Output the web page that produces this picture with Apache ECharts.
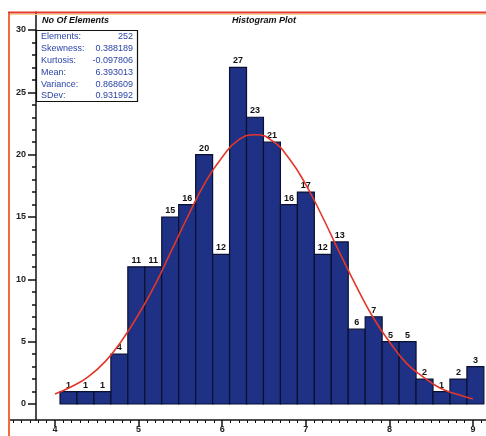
<!DOCTYPE html>
<html><head><meta charset="utf-8">
<script src="https://cdn.jsdelivr.net/npm/echarts@6/dist/echarts.min.js"></script>
<style>html,body{margin:0;padding:0;background:#fff}#c{width:486px;height:436px}</style>
</head><body><div id="c"></div>
<script>
// ---- data ----
const binStart = 4.06;
const binWidth = 0.2028;
const counts = [1,1,1,4,11,11,15,16,20,12,27,23,21,16,17,12,13,6,7,5,5,2,1,2,3];
const curveX = [4.0,4.2,4.4,4.6,4.8,5.0,5.2,5.4,5.6,5.8,6.0,6.2,6.4,6.6,6.8,7.0,7.2,7.4,7.6,7.8,8.0,8.2,8.4,8.6,8.8,9.0];
const curveY = [0.8,1.4,2.2,3.4,5.1,7.2,9.6,12.4,15.2,17.8,19.8,21.2,21.6,21.1,19.7,17.6,15.0,12.2,9.5,7.0,5.0,3.3,2.2,1.3,0.8,0.4];
const statNames = ['Elements:','Skewness:','Kurtosis:','Mean:','Variance:','SDev:'];
const statValues = ['252','0.388189','-0.097806','6.393013','0.868609','0.931992'];
const titleText = 'Histogram Plot';
const yTitle = 'No Of Elements';

const FONT = '"Liberation Sans Narrow", "Arial Narrow", "Liberation Sans", sans-serif';
const chart = echarts.init(document.getElementById('c'), null, {renderer:'canvas'});

const bars = counts.map((c, i) => [binStart + i * binWidth, binStart + (i + 1) * binWidth, c]);
const curve = curveX.map((x, i) => [x, curveY[i]]);

const statGraphics = [];
statNames.forEach((n, i) => {
  const y = 37 + i * 11.8;
  statGraphics.push({type:'text', z:101, style:{text:n, x:41, y:y, align:'left', verticalAlign:'middle', font:'9px ' + FONT, fill:'#2b45a8'}});
  statGraphics.push({type:'text', z:101, style:{text:statValues[i], x:133, y:y, align:'right', verticalAlign:'middle', font:'9px ' + FONT, fill:'#2b45a8'}});
});

const option = {
  backgroundColor:'#ffffff',
  animation:false,
  title:[
    {text:yTitle, left:42, top:16, padding:0, textStyle:{fontSize:9, fontStyle:'italic', fontWeight:'bold', color:'#111', fontFamily:FONT}},
    {text:titleText, left:232, top:16, padding:0, textStyle:{fontSize:9, fontStyle:'italic', fontWeight:'bold', color:'#111', fontFamily:FONT}}
  ],
  grid:[
    {left:36, width:470.44, top:30, bottom:32, containLabel:false, outerBoundsMode:'none'},
    {left:-28.6, width:535.04, top:410, bottom:16, containLabel:false, outerBoundsMode:'none'},
    {left:36, width:10, top:12, bottom:16, containLabel:false, outerBoundsMode:'none'}
  ],
  xAxis:[
    {gridIndex:0, type:'value', min:3.7727, max:9.4, show:false},
    {gridIndex:1, type:'value', min:3, max:9.4, interval:1,
      axisLine:{show:true, onZero:false, lineStyle:{color:'#111', width:1.5}},
      axisTick:{show:true, length:7, lineStyle:{color:'#111', width:1.5}},
      minorTick:{show:true, splitNumber:10, length:3, lineStyle:{color:'#111', width:1}},
      splitLine:{show:false},
      axisLabel:{margin:5, fontSize:9, fontWeight:'bold', color:'#222', fontFamily:FONT,
        formatter: v => (v >= 4 && v <= 9 && Number.isInteger(v)) ? String(v) : ''}
    },
    {gridIndex:2, type:'value', min:0, max:1, show:false}
  ],
  yAxis:[
    {gridIndex:0, type:'value', min:0, max:30, interval:5,
      axisLine:{show:false},
      axisTick:{show:true, length:8, lineStyle:{color:'#111', width:1.5}},
      minorTick:{show:true, splitNumber:5, length:4, lineStyle:{color:'#111', width:1.5}},
      splitLine:{show:false},
      axisLabel:{margin:10, fontSize:9, fontWeight:'bold', color:'#222', fontFamily:FONT}
    },
    {gridIndex:1, type:'value', min:0, max:1, show:false},
    {gridIndex:2, type:'value', min:0, max:1,
      axisLine:{show:true, onZero:false, lineStyle:{color:'#111', width:1.5}},
      axisTick:{show:false}, axisLabel:{show:false}, splitLine:{show:false}
    }
  ],
  series:[
    {
      type:'custom', xAxisIndex:0, yAxisIndex:0, clip:false,
      data: bars,
      encode:{x:[0,1], y:2},
      renderItem: function(params, api){
        const x0 = api.value(0), x1 = api.value(1), v = api.value(2);
        const p0 = api.coord([x0, v]);
        const p1 = api.coord([x1, 0]);
        return {type:'group', children:[
          {type:'rect', shape:{x:p0[0], y:p0[1], width:p1[0]-p0[0], height:p1[1]-p0[1]},
            style:{fill:'#1e3184', stroke:'#0b1030', lineWidth:1.2}},
          {type:'text', style:{text:String(v), x:(p0[0]+p1[0])/2, y:p0[1]-2, align:'center', verticalAlign:'bottom',
            font:'bold 9px ' + FONT, fill:'#111'}}
        ]};
      },
      z:2
    },
    {
      type:'line', xAxisIndex:0, yAxisIndex:0, data:curve, smooth:true, symbol:'none',
      lineStyle:{color:'#e2372a', width:1.6}, z:3
    }
  ],
  graphic:[
    {type:'rect', z:100, shape:{x:0, y:395, width:8, height:41}, style:{fill:'#fff'}},
    {type:'line', z:100, shape:{x1:9, y1:12, x2:9, y2:436}, style:{stroke:'#f06a3c', lineWidth:2}},
    {type:'line', z:100, shape:{x1:8, y1:12.5, x2:486, y2:12.5}, style:{stroke:'#e23a2b', lineWidth:2}},
    {type:'line', z:100, shape:{x1:10, y1:14.5, x2:486, y2:14.5}, style:{stroke:'#f7d58e', lineWidth:1}},
    {type:'rect', z:100, shape:{x:36.5, y:30.5, width:101, height:71}, style:{fill:'#fff', stroke:'#111', lineWidth:1.2}}
  ].concat(statGraphics)
};
chart.setOption(option);
</script>
</body></html>
